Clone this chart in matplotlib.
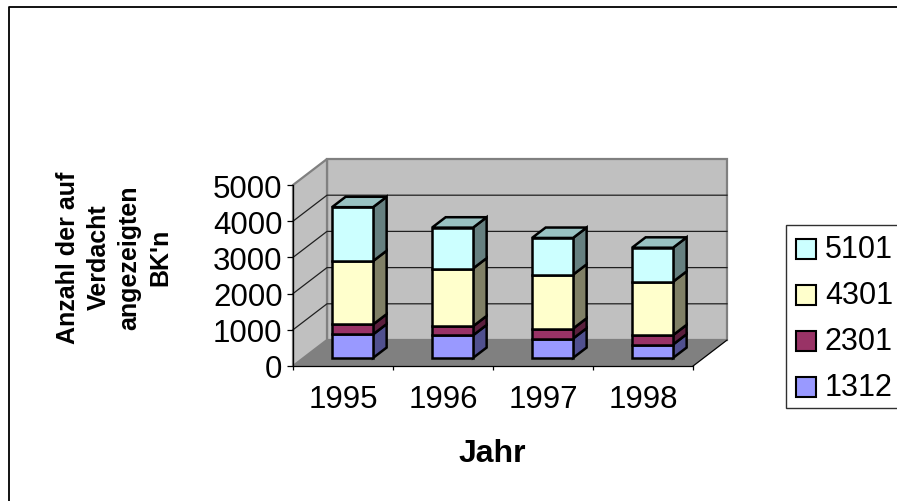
import matplotlib
matplotlib.use("Agg")
import matplotlib.pyplot as plt
from matplotlib.patches import Polygon, Rectangle

plt.rcParams['font.family'] = ['Liberation Sans', 'DejaVu Sans']

years = ['1995', '1996', '1997', '1998']
yticks = [0, 1000, 2000, 3000, 4000, 5000]
s1312 = [650, 625, 535, 370]
s2301 = [275, 250, 275, 260]
s4301 = [1750, 1595, 1490, 1475]
s5101 = [1490, 1130, 1015, 940]
series = [('1312', s1312, '#9999FF'), ('2301', s2301, '#993366'),
          ('4301', s4301, '#FFFFCC'), ('5101', s5101, '#CCFFFF')]
side = {'1312': '#50508F', '2301': '#5A1F3D', '4301': '#808066', '5101': '#668080'}
top = {'5101': '#99C2C2'}

W, H = 897, 502
fig = plt.figure(figsize=(W/100, H/100), dpi=100)

# Chart-area frame: right and bottom edges fall outside the cropped original
bg = fig.add_axes([0, 0, 1, 1]); bg.set_xlim(0, W); bg.set_ylim(H, 0); bg.axis('off')
bg.plot([W+5, 8.5, 8.5], [7.5, 7.5, H+5], color='black', lw=1.3)

# Main axes: the front plane of the 3D box
L, R, T, B = 293, 693, 186, 367
ax = fig.add_axes([L/W, 1-B/H, (R-L)/W, (B-T)/H])
ax.set_xlim(0, 4); ax.set_ylim(0, 5000)
ax.patch.set_visible(False)
DX = 34/100
DY = 26*5000/(B-T)

def pr(x, y, d):
    return (x + d*DX, y + d*DY)

def poly(pts, fc, ec='black', lw=1.0, z=2):
    ax.add_patch(Polygon(pts, closed=True, facecolor=fc, edgecolor=ec, lw=lw,
                         zorder=z, clip_on=False, joinstyle='miter'))

# Floor and walls
poly([pr(0,0,0), pr(4,0,0), pr(4,0,1), pr(0,0,1)], '#808080', ec='#808080', z=1)
poly([pr(0,0,1), pr(4,0,1), pr(4,5000,1), pr(0,5000,1)], '#C0C0C0', ec='#808080', lw=1.6, z=1)
poly([pr(0,0,0), pr(0,0,1), pr(0,5000,1), pr(0,5000,0)], '#C0C0C0', ec='#808080', lw=1.6, z=1)
for v in yticks[1:-1]:
    ax.plot(*zip(pr(0,v,0), pr(0,v,1), pr(4,v,1)), color='#202020', lw=0.9, zorder=1.5, clip_on=False)
ax.plot(*zip(pr(4,0,0), pr(4,0,1)), color='black', lw=0.8, zorder=1.5, clip_on=False)

# Stacked 3D bars
bw, d0, d1 = 0.41, 0.31, 0.71
for i in range(len(years)):
    x0 = i + 0.49 - bw/2
    x1 = x0 + bw
    base = 0
    for j, (name, vals, col) in enumerate(series):
        y0, y1 = base, base + vals[i]
        poly([pr(x1,y0,d0), pr(x1,y0,d1), pr(x1,y1,d1), pr(x1,y1,d0)], side[name], lw=1.8, z=3)
        poly([pr(x0,y0,d0), pr(x1,y0,d0), pr(x1,y1,d0), pr(x0,y1,d0)], col, lw=1.8, z=4)
        base = y1
    name = series[-1][0]
    poly([pr(x0,base,d0), pr(x1,base,d0), pr(x1,base,d1), pr(x0,base,d1)], top[name], lw=1.8, z=4)

# Axes
for s in ('top', 'right'):
    ax.spines[s].set_visible(False)
for s in ('left', 'bottom'):
    ax.spines[s].set_linewidth(0.9)
ax.set_yticks(yticks)
ax.set_xticks(range(5)); ax.set_xticklabels([])
ax.set_xticks([i + 0.5 for i in range(4)], minor=True)
ax.set_xticklabels(years, minor=True, fontsize=22.5)
ax.tick_params(axis='x', which='minor', length=0, pad=13)
ax.tick_params(axis='x', which='major', length=3, width=0.9)
ax.tick_params(axis='y', length=4.5, width=0.9, labelsize=22.5, pad=3)

bg.text(492, 454, 'Jahr', fontsize=23, fontweight='bold', ha='center', va='center')
bg.text(114, 257.5, "Anzahl der auf\nVerdacht\nangezeigten\nBK'n", fontsize=18, fontweight='bold',
        rotation=90, ha='center', va='center', linespacing=1.36)

# Legend
bg.add_patch(Rectangle((786, 226), 130, 183, fc='white', ec='#303030', lw=1))
for (name, vals, col), yc in zip(series, [388, 342, 296, 250]):
    bg.add_patch(Rectangle((796, yc-10), 20, 20, fc=col, ec='black', lw=1.5))
    bg.text(825, yc, name, fontsize=22, ha='left', va='center')

fig.savefig('out.png', dpi=100)
